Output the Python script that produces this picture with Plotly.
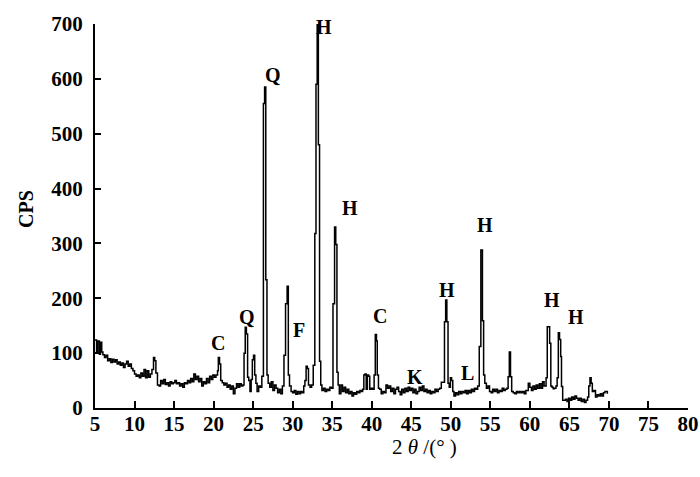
import plotly.graph_objects as go

two_theta = [
    5.0, 5.2, 5.35, 5.55, 5.7, 5.85, 6.0, 6.2, 6.4, 6.6, 6.8, 7.0, 7.2, 7.4, 7.6, 7.8,
    8.0, 8.2, 8.4, 8.6, 8.8, 9.0, 9.2, 9.4, 9.6, 9.8, 10.0, 10.2, 10.4, 10.6, 10.8,
    11.0, 11.2, 11.4, 11.6, 11.8, 12.0, 12.2, 12.4, 12.55, 12.7, 12.9, 13.1, 13.3,
    13.5, 13.7, 13.9, 14.1, 14.3, 14.5, 14.7, 14.9, 15.1, 15.3, 15.5, 15.7, 15.9,
    16.1, 16.3, 16.5, 16.7, 16.9, 17.1, 17.3, 17.5, 17.7, 17.9, 18.1, 18.3, 18.5,
    18.7, 18.9, 19.1, 19.3, 19.5, 19.7, 19.9, 20.1, 20.3, 20.5, 20.6, 20.75, 20.9,
    21.1, 21.3, 21.5, 21.7, 21.9, 22.1, 22.3, 22.5, 22.7, 22.9, 23.1, 23.3, 23.5,
    23.7, 23.85, 24.0, 24.15, 24.3, 24.45, 24.6, 24.75, 24.9, 25.05, 25.2, 25.35,
    25.5, 25.7, 25.9, 26.1, 26.3, 26.45, 26.6, 26.75, 26.9, 27.1, 27.3, 27.5, 27.7,
    27.9, 28.1, 28.3, 28.5, 28.7, 28.9, 29.1, 29.3, 29.45, 29.6, 29.8, 30.0, 30.2,
    30.4, 30.6, 30.8, 31.0, 31.2, 31.4, 31.55, 31.7, 31.85, 32.0, 32.2, 32.4, 32.6,
    32.8, 32.95, 33.1, 33.25, 33.4, 33.55, 33.7, 33.9, 34.1, 34.3, 34.5, 34.7, 34.9,
    35.1, 35.3, 35.45, 35.6, 35.75, 35.9, 36.1, 36.3, 36.5, 36.7, 36.9, 37.1, 37.3,
    37.5, 37.7, 37.9, 38.1, 38.3, 38.5, 38.7, 38.85, 39.0, 39.15, 39.3, 39.45, 39.6,
    39.75, 39.9, 40.1, 40.3, 40.45, 40.6, 40.7, 40.85, 41.0, 41.2, 41.4, 41.6, 41.8,
    42.0, 42.2, 42.4, 42.6, 42.8, 43.0, 43.2, 43.4, 43.6, 43.8, 44.0, 44.2, 44.4,
    44.6, 44.8, 45.0, 45.2, 45.4, 45.6, 45.8, 46.0, 46.2, 46.4, 46.6, 46.8, 47.0,
    47.2, 47.4, 47.6, 47.8, 48.0, 48.2, 48.4, 48.6, 48.8, 49.05, 49.2, 49.35, 49.5,
    49.65, 49.8, 49.95, 50.1, 50.25, 50.4, 50.6, 50.8, 51.0, 51.2, 51.4, 51.6, 51.8,
    52.0, 52.2, 52.4, 52.6, 52.8, 53.0, 53.2, 53.4, 53.6, 53.8, 54.0, 54.15, 54.3,
    54.5, 54.7, 54.9, 55.1, 55.3, 55.5, 55.7, 55.9, 56.1, 56.3, 56.5, 56.7, 56.9,
    57.1, 57.25, 57.4, 57.55, 57.7, 57.9, 58.1, 58.3, 58.5, 58.7, 58.9, 59.1, 59.3,
    59.5, 59.8, 60.0, 60.2, 60.4, 60.6, 60.8, 61.0, 61.2, 61.4, 61.6, 61.8, 62.05,
    62.2, 62.5, 62.65, 62.8, 62.95, 63.1, 63.3, 63.45, 63.6, 63.75, 63.9, 64.0, 64.15,
    64.3, 64.5, 64.7, 64.9, 65.1, 65.3, 65.5, 65.7, 65.9, 66.1, 66.3, 66.5, 66.7,
    66.9, 67.1, 67.3, 67.45, 67.6, 67.75, 67.9, 68.1, 68.3, 68.5, 68.7, 68.9, 69.1,
    69.3, 69.5, 69.8,
]
cps = [
    124, 100, 122, 98, 120, 102, 97, 92, 96, 86, 90, 83, 89, 84, 88, 80,
    84, 78, 82, 74, 80, 85, 76, 80, 72, 68, 62, 58, 60, 55, 64,
    58, 70, 55, 68, 56, 62, 70, 92, 86, 64, 42, 40, 50,
    44, 52, 43, 46, 40, 48, 44, 46, 50, 44, 46, 40, 44,
    38, 46, 44, 50, 46, 54, 48, 62, 52, 58, 48, 54, 40,
    48, 44, 54, 46, 58, 52, 60, 56, 60, 68, 92, 80, 50,
    46, 42, 45, 38, 42, 34, 40, 26, 36, 44, 38, 44, 40,
    42, 100, 147, 135, 56, 50, 30, 52, 88, 96, 60, 45,
    30, 40, 38, 58, 555, 585, 234, 60, 45, 38, 48, 32, 42,
    36, 28, 34, 26, 40, 96, 190, 222, 60, 40, 30, 28, 32,
    25, 30, 26, 30, 28, 40, 50, 76, 72, 42, 38, 42, 78,
    318, 590, 700, 480, 85, 42, 32, 36, 30, 34, 32, 38, 36,
    190, 330, 298, 65, 42, 26, 42, 30, 38, 28, 34, 26, 30,
    22, 28, 25, 30, 28, 32, 30, 34, 60, 62, 34, 60, 58,
    34, 36, 34, 60, 134, 122, 60, 36, 34, 26, 30, 28, 42,
    36, 40, 30, 36, 26, 34, 38, 30, 24, 34, 28, 36, 30,
    38, 32, 36, 28, 34, 26, 30, 38, 32, 40, 30, 34, 28,
    32, 26, 30, 28, 34, 30, 34, 36, 47, 47, 157, 197, 157,
    45, 38, 55, 50, 30, 22, 28, 24, 30, 26, 30, 28, 32,
    26, 32, 28, 34, 30, 36, 34, 40, 112, 288, 159, 60, 45,
    36, 40, 30, 28, 34, 30, 34, 28, 32, 30, 36, 32, 34,
    36, 57, 102, 57, 30, 28, 26, 30, 28, 30, 28, 30, 26,
    32, 45, 38, 32, 40, 34, 42, 36, 44, 36, 48, 40, 55,
    148, 118, 40, 38, 35, 36, 40, 55, 137, 125, 94, 39, 14,
    14, 16, 12, 18, 14, 20, 16, 22, 18, 14, 18, 12, 16,
    10, 14, 20, 40, 55, 45, 30, 32, 20, 24, 22, 26, 22,
    28, 30, 26,
]

# phase labels: text, x (deg), y (CPS)
label_text = ["Q", "H", "H", "C", "Q", "F", "C", "K", "H", "L", "H", "H", "H"]
label_x = [27.5, 33.95, 37.2, 20.6, 24.2, 30.8, 41.05, 45.5, 49.55, 52.1, 54.3, 62.8, 65.8]
label_y = [607, 694, 364, 118, 165, 143, 167, 57, 215, 63, 333, 196, 166]

x_ticks = list(range(5, 81, 5))
y_ticks = list(range(0, 701, 100))

serif = "Liberation Serif"
W, H = 700, 477
L, R, T, B = 95, 12, 24, 69

fig = go.Figure()
fig.add_trace(go.Scatter(
    x=two_theta, y=cps, mode="lines", line_shape="hv",
    line=dict(color="black", width=1.5), showlegend=False,
))

for t, lx, ly in zip(label_text, label_x, label_y):
    fig.add_annotation(x=lx, y=ly, text=t, showarrow=False,
                       font=dict(family=serif, size=20, color="black", weight="bold"))

# axis titles
fig.add_annotation(xref="paper", yref="paper", x=0, y=0.5, xanchor="center",
                   yanchor="middle", xshift=-69, yshift=7,
                   text="CPS", textangle=-90, showarrow=False,
                   font=dict(family=serif, size=20, color="black", weight="bold"))
fig.add_annotation(xref="paper", yref="paper", x=0.556, y=0, xanchor="center",
                   yanchor="middle", yshift=-39,
                   text="2 <i>θ</i> /(° )", showarrow=False,
                   font=dict(family=serif, size=21, color="black"))

fig.update_layout(
    width=W, height=H,
    margin=dict(l=L, r=R, t=T, b=B),
    paper_bgcolor="white", plot_bgcolor="white",
)
fig.update_xaxes(
    range=[5, 80], tickvals=x_ticks, ticks="inside", ticklen=7, tickwidth=1.5,
    tickcolor="black", showline=True, linecolor="black", linewidth=2,
    showgrid=False, zeroline=False, automargin=False, ticklabelstandoff=-4,
    tickfont=dict(family=serif, size=21, color="black", weight="bold"),
)
fig.update_yaxes(
    range=[0, 700], tickvals=y_ticks, ticks="inside", ticklen=6, tickwidth=1.5,
    tickcolor="black", showline=True, linecolor="black", linewidth=2,
    showgrid=False, zeroline=False, automargin=False, ticklabelstandoff=6,
    tickfont=dict(family=serif, size=21, color="black", weight="bold"),
)

# remove the browser's default page margin so the 700x477 figure fills the window
fig.write_html("out.html",
               config={"displayModeBar": False},
               post_script="document.body.style.margin='0';document.body.style.overflow='hidden';")
